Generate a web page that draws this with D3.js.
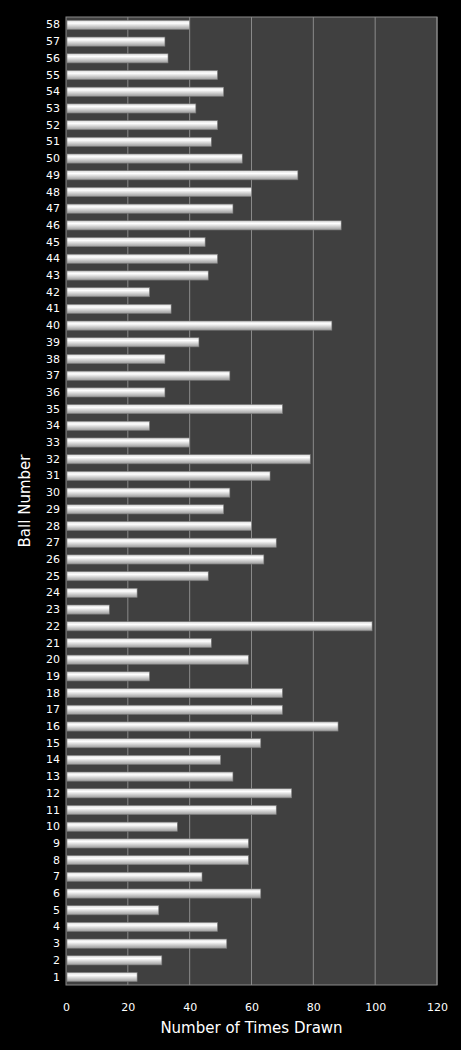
<!DOCTYPE html>
<html><head><meta charset="utf-8">
<script src="https://cdn.jsdelivr.net/npm/d3@7"></script>
<style>body{margin:0;background:#000}</style>
</head><body>
<svg id="chart" width="461" height="1050"></svg>
<script>
// Ball numbers 1..58 and times drawn
var balls = d3.range(1, 59);
var counts = [23,31,52,49,30,63,44,59,59,36,68,73,54,50,63,88,70,70,27,59,
              47,99,14,23,46,64,68,60,51,53,66,79,40,27,70,32,53,32,43,86,
              34,27,46,49,45,89,54,60,75,57,47,49,42,51,49,33,32,40];
var xTicks = [0,20,40,60,80,100,120];

var svg = d3.select("#chart");
var m = {left: 66, right: 24, top: 17, bottom: 65};
var W = 461, H = 1050;

var x = d3.scaleLinear().domain([0,120]).range([m.left, W - m.right]);
var y = d3.scaleBand().domain(balls.slice().reverse()).range([m.top, H - m.bottom]).paddingInner(0.45).paddingOuter(0.2);

var grad = svg.append("defs").append("linearGradient").attr("id","bar").attr("x1",0).attr("y1",0).attr("x2",0).attr("y2",1);
grad.append("stop").attr("offset","0%").attr("stop-color","#d8d8d8");
grad.append("stop").attr("offset","30%").attr("stop-color","#ffffff");
grad.append("stop").attr("offset","100%").attr("stop-color","#9a9a9a");

svg.append("rect").attr("x",m.left).attr("y",m.top)
  .attr("width",x(120)-m.left).attr("height",H-m.bottom-m.top)
  .attr("fill","#404040").attr("stroke","#8a8a8a");

svg.append("g").selectAll("line").data(xTicks.slice(1)).enter().append("line")
  .attr("x1",function(d){return x(d);}).attr("x2",function(d){return x(d);})
  .attr("y1",m.top).attr("y2",H-m.bottom)
  .attr("stroke","#8a8a8a").attr("stroke-width",1);

svg.append("g").selectAll("rect").data(balls).enter().append("rect")
  .attr("x",x(0)+1)
  .attr("y",function(d){return y(d);})
  .attr("height",y.bandwidth())
  .attr("width",function(d,i){return x(counts[i])-x(0)-1;})
  .attr("fill","url(#bar)").attr("stroke","#777").attr("stroke-width",0.6);

var yAxis = svg.append("g").attr("transform","translate("+(m.left-6)+",0)")
  .call(d3.axisLeft(y).tickSize(0).tickPadding(0));
yAxis.select(".domain").remove();
yAxis.selectAll("text").attr("fill","#fff").style("font-family","'DejaVu Sans'").style("font-size","11px");

var xAxis = svg.append("g").attr("transform","translate(0,"+(H-m.bottom+18)+")")
  .call(d3.axisBottom(x).tickValues(xTicks).tickSize(0).tickPadding(0));
xAxis.select(".domain").remove();
xAxis.selectAll("text").attr("fill","#fff").style("font-family","'DejaVu Sans'").style("font-size","11px");

svg.append("text").attr("x",(m.left + x(120))/2).attr("y",1033)
  .attr("text-anchor","middle").attr("fill","#fff")
  .style("font-family","'DejaVu Sans'").style("font-size","15px").text("Number of Times Drawn");

svg.append("text").attr("transform","translate(30,"+((m.top+H-m.bottom)/2)+") rotate(-90)")
  .attr("text-anchor","middle").attr("fill","#fff")
  .style("font-family","'DejaVu Sans'").style("font-size","15px").text("Ball Number");
</script>
</body></html>
